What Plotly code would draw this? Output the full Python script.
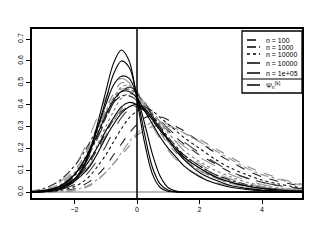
import plotly.graph_objects as go

# common evaluation grid for all density curves
x_grid = [-3.4, -3, -2.5, -2, -1.75, -1.5, -1.25, -1, -0.75, -0.5, -0.25, 0, 0.25,
          0.5, 0.75, 1, 1.25, 1.5, 2, 2.5, 3, 3.5, 4, 4.5, 5, 5.4]

# dashed estimates (groups by sample size)
dens_n100 = [
    [0.003,0.01,0.035,0.10,0.15,0.22,0.30,0.38,0.45,0.50,0.49,0.45,0.39,0.33,0.27,0.22,0.18,0.15,0.10,0.065,0.04,0.025,0.015,0.009,0.005,0.003],
    [0,0.001,0.004,0.015,0.03,0.05,0.08,0.12,0.17,0.22,0.27,0.31,0.34,0.35,0.345,0.33,0.30,0.28,0.23,0.18,0.14,0.10,0.07,0.05,0.035,0.025],
    [0,0,0.002,0.008,0.015,0.03,0.055,0.09,0.13,0.17,0.21,0.26,0.28,0.30,0.30,0.30,0.29,0.27,0.24,0.20,0.16,0.12,0.09,0.065,0.045,0.033],
    [0.001,0.005,0.02,0.06,0.09,0.14,0.20,0.27,0.33,0.37,0.39,0.39,0.37,0.34,0.31,0.28,0.25,0.22,0.17,0.13,0.09,0.065,0.045,0.03,0.02,0.014],
]
dens_n1000 = [
    [0.002,0.007,0.025,0.075,0.12,0.18,0.26,0.34,0.41,0.46,0.47,0.45,0.40,0.35,0.30,0.25,0.21,0.17,0.12,0.08,0.05,0.03,0.02,0.012,0.007,0.004],
    [0,0.001,0.003,0.01,0.02,0.035,0.06,0.09,0.13,0.18,0.23,0.27,0.30,0.32,0.32,0.31,0.29,0.27,0.23,0.19,0.15,0.11,0.08,0.06,0.04,0.03],
    [0.005,0.015,0.05,0.12,0.17,0.23,0.30,0.36,0.41,0.44,0.44,0.42,0.38,0.33,0.28,0.24,0.20,0.17,0.12,0.08,0.055,0.035,0.022,0.014,0.008,0.005],
    [0.003,0.009,0.03,0.09,0.14,0.21,0.29,0.37,0.43,0.47,0.47,0.44,0.39,0.33,0.28,0.23,0.19,0.16,0.11,0.075,0.05,0.032,0.02,0.012,0.007,0.004],
]
dens_n10000 = [
    [0.002,0.006,0.02,0.06,0.10,0.15,0.22,0.30,0.37,0.43,0.45,0.44,0.41,0.36,0.31,0.27,0.23,0.19,0.14,0.10,0.07,0.045,0.03,0.02,0.012,0.008],
    [0,0.002,0.007,0.025,0.045,0.075,0.12,0.17,0.23,0.29,0.34,0.37,0.38,0.37,0.34,0.31,0.28,0.25,0.20,0.15,0.11,0.08,0.055,0.038,0.025,0.017],
    [0.002,0.008,0.028,0.085,0.13,0.20,0.28,0.36,0.43,0.48,0.49,0.46,0.40,0.34,0.28,0.23,0.19,0.15,0.10,0.065,0.04,0.025,0.015,0.009,0.005,0.003],
]
dens_n10000b = [
    [0.001,0.004,0.015,0.05,0.08,0.13,0.19,0.26,0.33,0.38,0.42,0.42,0.40,0.36,0.32,0.28,0.24,0.21,0.16,0.12,0.08,0.055,0.035,0.022,0.014,0.009],
    [0.001,0.003,0.01,0.035,0.06,0.10,0.15,0.21,0.28,0.34,0.38,0.40,0.39,0.37,0.33,0.29,0.26,0.23,0.18,0.135,0.095,0.065,0.045,0.03,0.02,0.013],
    [0.004,0.012,0.04,0.12,0.18,0.26,0.35,0.43,0.49,0.52,0.50,0.44,0.37,0.30,0.24,0.19,0.15,0.12,0.075,0.045,0.028,0.017,0.01,0.006,0.003,0.002],
    [0.002,0.006,0.02,0.07,0.11,0.17,0.25,0.33,0.41,0.46,0.48,0.46,0.41,0.35,0.29,0.24,0.19,0.16,0.11,0.07,0.045,0.03,0.018,0.011,0.007,0.004],
    [0.001,0.004,0.014,0.045,0.075,0.12,0.18,0.25,0.32,0.38,0.42,0.43,0.41,0.37,0.32,0.27,0.23,0.19,0.13,0.09,0.06,0.04,0.025,0.016,0.01,0.006],
]
# solid curves
dens_solid = [
    [0,0.001,0.01,0.05,0.10,0.19,0.32,0.46,0.59,0.65,0.60,0.42,0.22,0.08,0.02,0.003,0.001,0,0,0,0,0,0,0,0,0],
    [0,0.002,0.015,0.06,0.11,0.19,0.30,0.42,0.54,0.60,0.57,0.44,0.26,0.11,0.035,0.008,0.001,0,0,0,0,0,0,0,0,0],
    [0,0.005,0.025,0.08,0.13,0.20,0.30,0.40,0.49,0.53,0.52,0.44,0.31,0.17,0.07,0.02,0.005,0.001,0,0,0,0,0,0,0,0],
    [0.002,0.007,0.025,0.08,0.13,0.19,0.27,0.35,0.42,0.46,0.46,0.43,0.37,0.31,0.25,0.20,0.16,0.12,0.07,0.04,0.022,0.012,0.006,0.003,0.001,0.001],
    [0.002,0.006,0.02,0.06,0.10,0.15,0.21,0.28,0.34,0.39,0.41,0.40,0.37,0.33,0.28,0.24,0.20,0.16,0.11,0.07,0.045,0.028,0.017,0.01,0.006,0.004],
    [0.001,0.004,0.015,0.05,0.08,0.12,0.18,0.25,0.31,0.36,0.39,0.40,0.38,0.34,0.29,0.24,0.19,0.15,0.09,0.055,0.03,0.017,0.009,0.005,0.002,0.001],
]

legend_labels = ["n = 100", "n = 1000", "n = 10000", "n = 10000", "n = 1e+05"]
x_ticks = [-2, 0, 2, 4]
y_ticks = [0.0, 0.1, 0.2, 0.3, 0.4, 0.5, 0.6, 0.7]

fig = go.Figure()

def add(curves, dash, colors, width=1.1):
    for i, ys in enumerate(curves):
        fig.add_trace(go.Scatter(x=x_grid, y=ys, mode="lines",
                                 line=dict(color=colors[i % len(colors)], dash=dash,
                                           width=width, shape="spline", smoothing=0.9),
                                 showlegend=False, hoverinfo="skip"))

add(dens_n100, "dash", ["#888888", "#222222"])
add(dens_n1000, "dashdot", ["#222222", "#999999"])
add(dens_n10000, "dot", ["#777777", "#111111"])
add(dens_n10000b, "longdash", ["#999999", "#333333"])
add(dens_solid, "solid", ["#000000"], width=1.1)

# reference lines
fig.add_shape(type="line", xref="paper", yref="y", x0=0, x1=1, y0=0, y1=0,
              line=dict(color="#bbbbbb", width=2), layer="below")
fig.add_shape(type="line", xref="x", yref="paper", x0=0, x1=0, y0=0, y1=1,
              line=dict(color="black", width=1.5))

# manual legend (pixel helpers)
L, R, T, B = 32, 302, 29, 198
def px(x):
    return (x - L) / (R - L)
def py(y):
    return (B - y) / (B - T)

fig.add_shape(type="rect", xref="paper", yref="paper", x0=px(242), x1=px(302),
              y0=py(93), y1=py(31), line=dict(color="black", width=1.3), fillcolor="white")
fig.add_shape(type="line", xref="paper", yref="paper", x0=px(242), x1=px(302),
              y0=py(79), y1=py(79), line=dict(color="black", width=1.2))
leg_y = [40, 47, 54, 63, 73]
leg_dash = ["dash", "dashdot", "dot", "longdash", "solid"]
for yy, d, lab in zip(leg_y, leg_dash, legend_labels):
    fig.add_shape(type="line", xref="paper", yref="paper", x0=px(247), x1=px(260),
                  y0=py(yy), y1=py(yy), line=dict(color="black", width=1.5, dash=d))
    fig.add_annotation(xref="paper", yref="paper", x=px(264), y=py(yy), text=lab,
                       showarrow=False, xanchor="left", yanchor="middle",
                       font=dict(size=7, color="black", family="Liberation Sans"))
fig.add_shape(type="line", xref="paper", yref="paper", x0=px(247), x1=px(260),
              y0=py(85), y1=py(85), line=dict(color="black", width=1.5))
fig.add_annotation(xref="paper", yref="paper", x=px(264), y=py(85),
                   text="Ψ<sub>n</sub><sup>(k)</sup>", showarrow=False,
                   xanchor="left", yanchor="middle",
                   font=dict(size=7, color="black", family="Liberation Sans"))

axis_common = dict(showline=True, linecolor="black", linewidth=1.6, mirror=True,
                   showgrid=False, zeroline=False, ticks="outside", ticklen=4,
                   tickcolor="black", tickwidth=1.2,
                   tickfont=dict(size=7, color="black", family="Liberation Sans"))
fig.update_xaxes(range=[-3.36, 5.28], tickvals=x_ticks, **axis_common)
fig.update_yaxes(range=[-0.027, 0.746], tickvals=y_ticks,
                 ticktext=[f"{v:.1f}" for v in y_ticks], tickangle=-90, **axis_common)
fig.update_layout(width=320, height=240, margin=dict(l=L, r=320 - R, t=T, b=240 - B),
                  plot_bgcolor="white", paper_bgcolor="white", showlegend=False)
fig.write_html("out.html", config={"displayModeBar": False},
               post_script="document.body.style.margin='0';")
